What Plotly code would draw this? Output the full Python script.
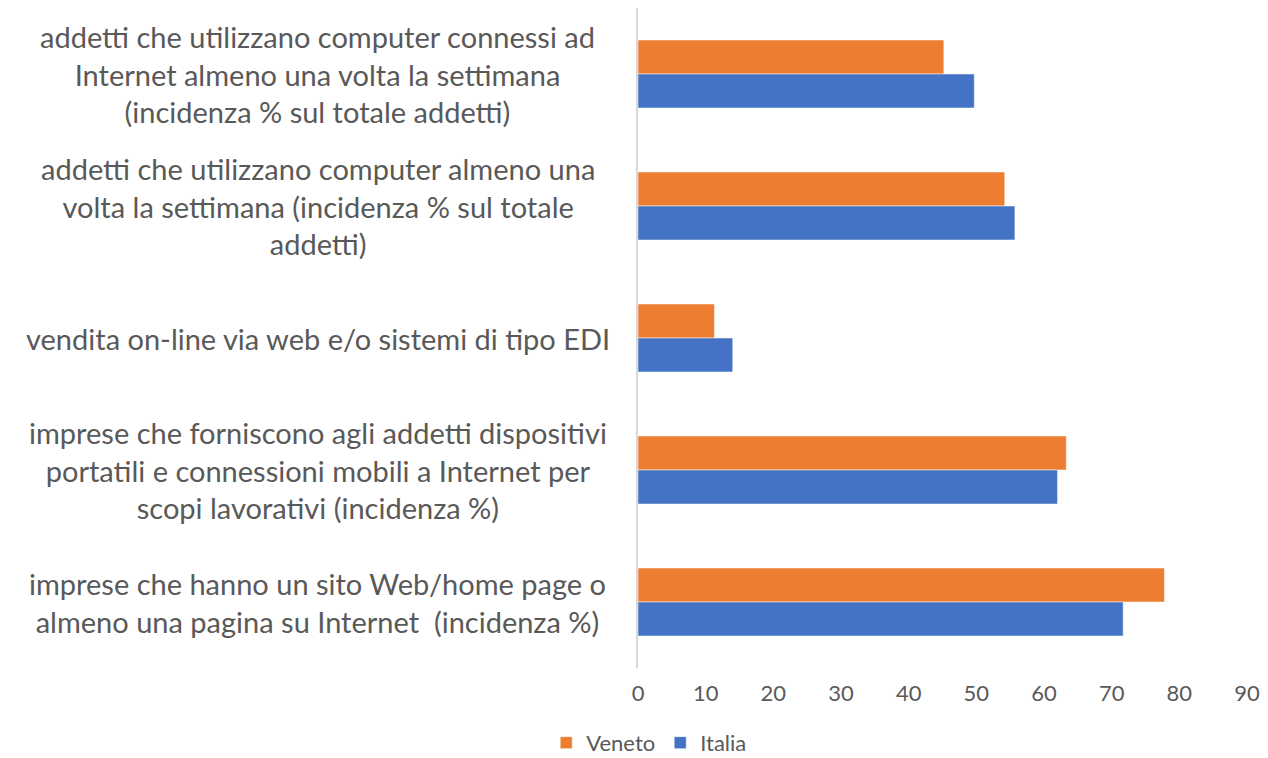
import plotly.graph_objects as go

categories = [
    "addetti che utilizzano computer connessi ad<br>Internet almeno una volta la settimana<br>(incidenza % sul totale addetti)",
    "addetti che utilizzano computer almeno una<br>volta la settimana (incidenza % sul totale<br>addetti)",
    "vendita on-line via web e/o sistemi di tipo EDI",
    "imprese che forniscono agli addetti dispositivi<br>portatili e connessioni mobili a Internet per<br>scopi lavorativi (incidenza %)",
    "imprese che hanno un sito Web/home page o<br>almeno una pagina su Internet  (incidenza %)",
]
veneto = [45.2, 54.2, 11.3, 63.3, 77.8]
italia = [49.7, 55.7, 14.0, 62.0, 71.7]
x_ticks = [0, 10, 20, 30, 40, 50, 60, 70, 80, 90]

FONT = "Lato"
GREY = "#595959"

fig = go.Figure()
fig.add_trace(go.Bar(y=categories, x=veneto, name="Veneto", orientation="h",
                     marker=dict(color="#ED7D31", line=dict(color="rgba(255,255,255,0.5)", width=1))))
fig.add_trace(go.Bar(y=categories, x=italia, name="Italia", orientation="h",
                     marker=dict(color="#4472C4", line=dict(color="rgba(255,255,255,0.5)", width=1))))

for c in categories:
    fig.add_annotation(x=-0.526, xref="paper", y=c, yref="y", text=c, showarrow=False,
                       xanchor="center", yanchor="middle", align="center",
                       font=dict(family=FONT, size=29, color=GREY))

fig.update_layout(
    width=1268, height=758,
    margin=dict(l=638, r=18, t=8, b=90),
    paper_bgcolor="white", plot_bgcolor="white",
    barmode="group", bargap=0.485, bargroupgap=0,
    font=dict(family=FONT, color=GREY),
    legend=dict(orientation="h", xref="container", yref="container", x=0.512, y=0.02,
                xanchor="center", yanchor="middle", font=dict(family=FONT, size=22, color=GREY),
                traceorder="normal"),
    xaxis=dict(range=[0, 90], tickvals=x_ticks, showgrid=False, zeroline=False,
               showline=False, tickfont=dict(family=FONT, size=22, color=GREY),
               ticks="", ticklabelstandoff=10),
    yaxis=dict(autorange="reversed", showticklabels=False, showgrid=False, zeroline=False,
               showline=True, linecolor="#D9D9D9", linewidth=2, ticks=""),
)

fig.write_html("out.html", config={"displayModeBar": False},
               post_script="document.body.style.margin='0';")
